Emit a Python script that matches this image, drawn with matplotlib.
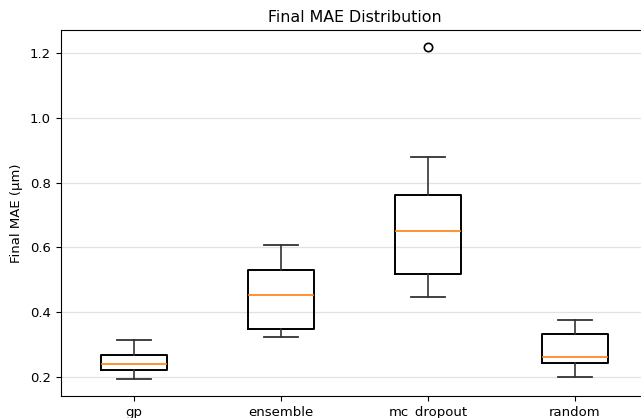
import matplotlib
matplotlib.use('Agg')
import matplotlib.pyplot as plt

# summary stats (um)
methods = ['gp', 'ensemble', 'mc_dropout', 'random']
whislo = [0.195, 0.323, 0.446, 0.200]
q1 = [0.222, 0.347, 0.518, 0.244]
med = [0.241, 0.453, 0.651, 0.260]
q3 = [0.268, 0.530, 0.762, 0.332]
whishi = [0.314, 0.607, 0.880, 0.375]
fliers = [[], [], [1.219], []]

stats = []
for i, name in enumerate(methods):
    stats.append({'label': name, 'whislo': whislo[i], 'q1': q1[i], 'med': med[i],
                  'q3': q3[i], 'whishi': whishi[i], 'fliers': fliers[i]})

plt.rcParams['font.size'] = 9.5

fig = plt.figure(figsize=(6.41, 4.18), dpi=100)
# axes runs slightly past the right edge, like the cropped original
ax = fig.add_axes([60.5 / 641, 22 / 418, 588 / 641, 366 / 418])

ax.bxp(stats, widths=0.45,
       boxprops=dict(linewidth=1.4, color='black'),
       whiskerprops=dict(linewidth=1.2, color='#333333'),
       capprops=dict(linewidth=1.3, color='#333333'),
       medianprops=dict(linewidth=1.2, color='#ff7f0e'),
       flierprops=dict(marker='o', markerfacecolor='none', markeredgecolor='black',
                       markersize=6, markeredgewidth=1.2))

ax.yaxis.grid(True, color='#d0d0d0', alpha=0.6, linewidth=0.9)
ax.set_axisbelow(True)
ax.set_xlim(0.5, 4.5)
ax.set_ylim(0.141, 1.271)
ax.set_title('Final MAE Distribution', fontsize=11.4)
ax.set_ylabel('Final MAE (µm)', labelpad=5)

fig.savefig('out.png', dpi=100)
